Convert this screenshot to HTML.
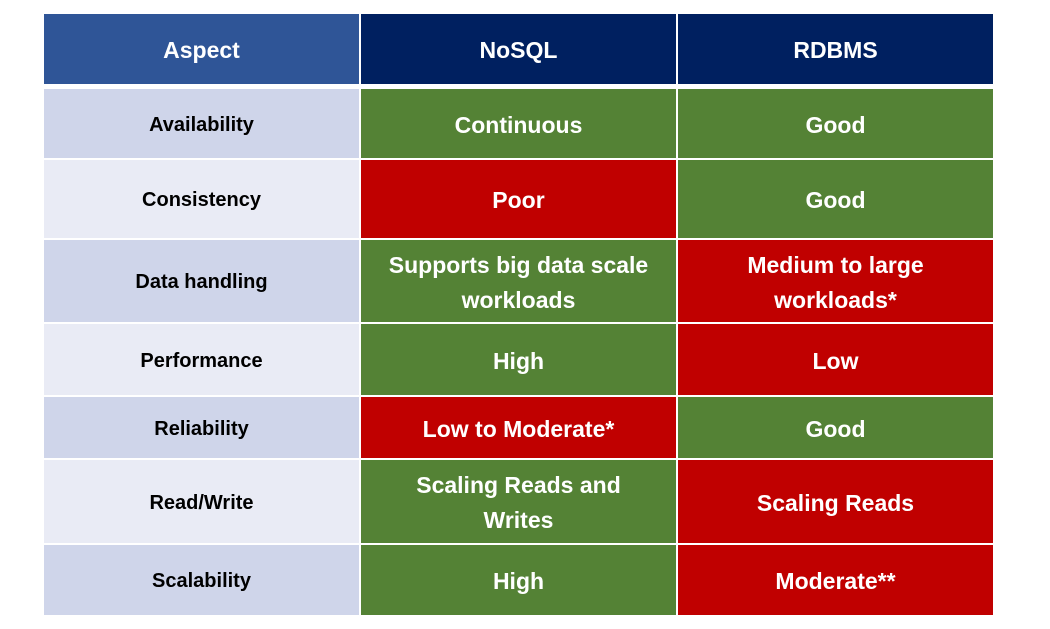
<!DOCTYPE html>
<html><head><style>
body{margin:0;width:1050px;height:629px;background:#fff;position:relative;overflow:hidden;font-family:"Liberation Sans",sans-serif;font-weight:bold}
.c{position:absolute;display:flex;align-items:center;justify-content:center;text-align:center;line-height:1.52;box-sizing:border-box;padding-top:3px}
.h{color:#fff;font-size:23px}
.a{color:#000;font-size:20px}
.v{color:#fff;font-size:23px}
.g{background:#548235}.r{background:#c00000}
.l1{background:#cfd5ea}.l2{background:#e9ebf5}
</style></head><body>
<div class="c h" style="left:44px;top:14px;width:315px;height:70px;background:#2f5597">Aspect</div>
<div class="c h" style="left:361px;top:14px;width:315px;height:70px;background:#002060">NoSQL</div>
<div class="c h" style="left:678px;top:14px;width:315px;height:70px;background:#002060">RDBMS</div>

<div class="c a l1" style="left:44px;top:89px;width:315px;height:69px">Availability</div>
<div class="c v g" style="left:361px;top:89px;width:315px;height:69px">Continuous</div>
<div class="c v g" style="left:678px;top:89px;width:315px;height:69px">Good</div>

<div class="c a l2" style="left:44px;top:160px;width:315px;height:78px">Consistency</div>
<div class="c v r" style="left:361px;top:160px;width:315px;height:78px">Poor</div>
<div class="c v g" style="left:678px;top:160px;width:315px;height:78px">Good</div>

<div class="c a l1" style="left:44px;top:240px;width:315px;height:82px">Data handling</div>
<div class="c v g" style="left:361px;top:240px;width:315px;height:82px">Supports big data scale<br>workloads</div>
<div class="c v r" style="left:678px;top:240px;width:315px;height:82px">Medium to large<br>workloads*</div>

<div class="c a l2" style="left:44px;top:324px;width:315px;height:71px">Performance</div>
<div class="c v g" style="left:361px;top:324px;width:315px;height:71px">High</div>
<div class="c v r" style="left:678px;top:324px;width:315px;height:71px">Low</div>

<div class="c a l1" style="left:44px;top:397px;width:315px;height:61px">Reliability</div>
<div class="c v r" style="left:361px;top:397px;width:315px;height:61px">Low to Moderate*</div>
<div class="c v g" style="left:678px;top:397px;width:315px;height:61px">Good</div>

<div class="c a l2" style="left:44px;top:460px;width:315px;height:83px">Read/Write</div>
<div class="c v g" style="left:361px;top:460px;width:315px;height:83px">Scaling Reads and<br>Writes</div>
<div class="c v r" style="left:678px;top:460px;width:315px;height:83px">Scaling Reads</div>

<div class="c a l1" style="left:44px;top:545px;width:315px;height:70px">Scalability</div>
<div class="c v g" style="left:361px;top:545px;width:315px;height:70px">High</div>
<div class="c v r" style="left:678px;top:545px;width:315px;height:70px">Moderate**</div>
</body></html>
